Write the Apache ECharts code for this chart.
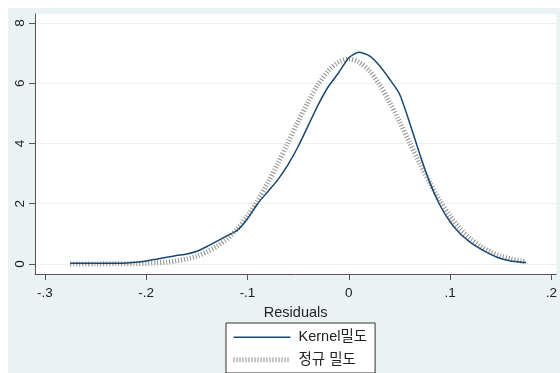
<!DOCTYPE html>
<html>
<head>
<meta charset="utf-8">
<script src="https://cdn.jsdelivr.net/npm/echarts@6/dist/echarts.min.js"></script>
<style>
  html, body { margin: 0; padding: 0; background: #ffffff; }
  #chart { position: absolute; left: 8px; top: 8px; width: 552px; height: 365px; background: #eaf2f3; }
</style>
</head>
<body>
<div id="chart"></div>
<script>
// residual grid (x) for both curves
const kernelX = [-0.275, -0.25, -0.23, -0.21, -0.20, -0.19, -0.18, -0.17, -0.16, -0.15, -0.14, -0.13, -0.12, -0.11,
  -0.10, -0.09, -0.08, -0.07, -0.06, -0.05, -0.04, -0.03, -0.02, -0.01, 0.00, 0.01, 0.02, 0.03, 0.04, 0.05,
  0.06, 0.07, 0.08, 0.09, 0.10, 0.11, 0.12, 0.13, 0.14, 0.15, 0.16, 0.17, 0.175];
const kernelY = [0.02, 0.02, 0.02, 0.06, 0.10, 0.16, 0.22, 0.28, 0.33, 0.42, 0.58, 0.76, 0.94, 1.12,
  1.50, 2.00, 2.40, 2.80, 3.30, 3.90, 4.60, 5.30, 5.90, 6.35, 6.85, 7.03, 6.92, 6.60, 6.15, 5.65,
  4.70, 3.65, 2.70, 1.95, 1.40, 1.00, 0.72, 0.50, 0.32, 0.18, 0.10, 0.06, 0.05];

const normalX = [-0.275, -0.25, -0.23, -0.21, -0.20, -0.19, -0.18, -0.17, -0.16, -0.15, -0.14, -0.13, -0.12, -0.11,
  -0.10, -0.09, -0.08, -0.07, -0.06, -0.05, -0.04, -0.03, -0.02, -0.01, 0.00, 0.01, 0.02, 0.03, 0.04, 0.05,
  0.06, 0.07, 0.08, 0.09, 0.10, 0.11, 0.12, 0.13, 0.14, 0.15, 0.16, 0.17, 0.175];
const normalY = [0.00, 0.00, 0.01, 0.01, 0.02, 0.04, 0.06, 0.10, 0.17, 0.26, 0.40, 0.59, 0.84, 1.17,
  1.59, 2.10, 2.69, 3.34, 4.03, 4.73, 5.39, 5.97, 6.42, 6.70, 6.80, 6.70, 6.42, 5.97, 5.39, 4.73,
  4.03, 3.34, 2.69, 2.10, 1.59, 1.17, 0.84, 0.59, 0.40, 0.26, 0.17, 0.10, 0.08];

const xTicks = [-0.3, -0.2, -0.1, 0, 0.1, 0.2];
const xTickLabels = ['-.3', '-.2', '-.1', '0', '.1', '.2'];
const yTicks = [0, 2, 4, 6, 8];
const yTickLabels = ['0', '2', '4', '6', '8'];

const seriesNames = ['Kernel밀도', '정규 밀도'];
const xTitle = 'Residuals';

const chart = echarts.init(document.getElementById('chart'));

const fontFamily = '"Liberation Sans", Arial, "Noto Sans CJK KR", sans-serif';
const navy = '#1a476f';
const gray = '#8f8f8f';

chart.setOption({
  animation: false,
  textStyle: { fontFamily: fontFamily },
  grid: {
    left: 27, right: 0, top: 6, bottom: 99,
    show: true, backgroundColor: '#ffffff', borderWidth: 0
  },
  xAxis: {
    type: 'value',
    min: -0.3098, max: 0.2049,
    name: xTitle,
    nameLocation: 'middle',
    nameGap: 24,
    nameTextStyle: { fontSize: 14.5, color: '#222' },
    axisLine: { onZero: false, lineStyle: { color: '#555', width: 1 } },
    axisTick: { length: 6, lineStyle: { color: '#555' }, customValues: xTicks },
    axisLabel: {
      customValues: xTicks,
      margin: 13,
      fontSize: 13.5,
      color: '#222',
      formatter: (v) => xTickLabels[xTicks.findIndex((t) => Math.abs(t - v) < 1e-6)] ?? ''
    },
    splitLine: { show: false }
  },
  yAxis: {
    type: 'value',
    min: -0.3333, max: 8.3,
    axisLine: { show: true, onZero: false, lineStyle: { color: '#555', width: 1 } },
    axisTick: { show: true, length: 6, lineStyle: { color: '#555' }, customValues: yTicks },
    axisLabel: {
      customValues: yTicks,
      rotate: 90,
      margin: 8,
      fontSize: 13.5,
      color: '#222',
      formatter: (v) => yTickLabels[yTicks.findIndex((t) => Math.abs(t - v) < 1e-6)] ?? ''
    },
    splitLine: { show: true, lineStyle: { color: '#eaf2f3', width: 1 } }
  },
  legend: {
    orient: 'vertical',
    left: 218, top: 315,
    padding: [7, 8, 6, 5],
    itemWidth: 57, itemHeight: 14, itemGap: 8,
    backgroundColor: '#ffffff',
    borderColor: '#333', borderWidth: 1, borderRadius: 0,
    textStyle: { fontSize: 14.5, color: '#222', padding: [0, 0, 0, 3] },
    itemStyle: { color: 'transparent', borderColor: 'transparent', borderWidth: 0 },
    data: [
      { name: seriesNames[0], lineStyle: { color: navy, width: 1.5, type: 'solid' } },
      { name: seriesNames[1], lineStyle: { color: gray, width: 5, type: [1, 2] } }
    ]
  },
  series: [
    {
      name: seriesNames[1],
      type: 'line',
      data: normalX.map((x, i) => [x, normalY[i]]),
      showSymbol: false, symbol: 'none',
      smooth: 0.3,
      lineStyle: { color: gray, width: 5, type: [1, 2] },
      itemStyle: { color: gray },
      z: 2
    },
    {
      name: seriesNames[0],
      type: 'line',
      data: kernelX.map((x, i) => [x, kernelY[i]]),
      showSymbol: false, symbol: 'none',
      smooth: 0.2,
      lineStyle: { color: navy, width: 1.5 },
      itemStyle: { color: navy },
      z: 3
    }
  ]
});
</script>
</body>
</html>
